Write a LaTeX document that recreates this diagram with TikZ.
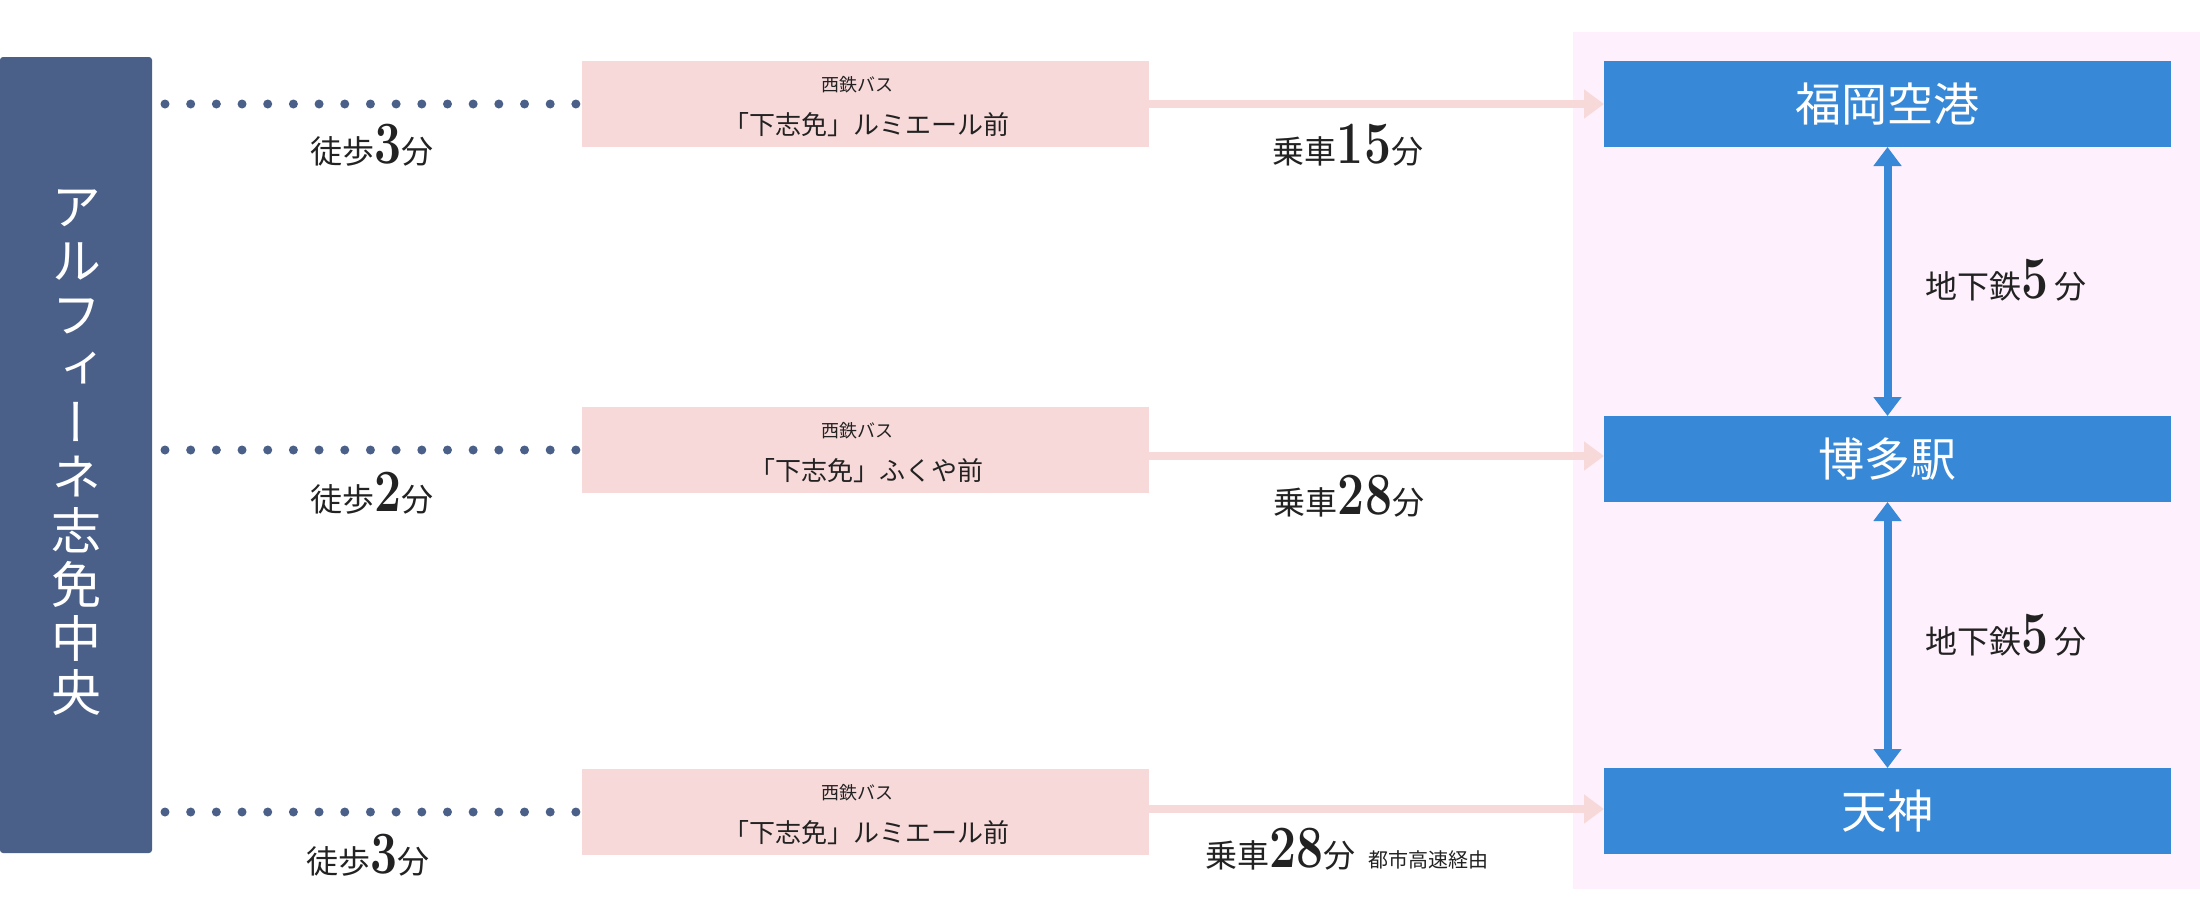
\documentclass[tikz,border=0pt]{standalone}
\usepackage{fontspec}
\usepackage{graphicx}
\usetikzlibrary{arrows.meta}
\newfontfamily\jp{Noto Sans CJK JP}
\newfontfamily\jpv[RawFeature=+vert]{Noto Sans CJK JP}
\definecolor{cNavy}{HTML}{4A6089}
\definecolor{cPinkBox}{HTML}{F8D9D9}
\definecolor{cPinkBg}{HTML}{FEF0FC}
\definecolor{cBlue}{HTML}{3788D6}
\definecolor{cInk}{HTML}{222222}
\newcommand\jpsize[1]{\fontsize{#1}{#1}\selectfont}
\newcommand\bignum[1]{{\rmfamily\bfseries\fontsize{60}{60}\selectfont\scalebox{0.8}[1]{#1}}}
\begin{document}
\begin{tikzpicture}[x=1pt,y=-1pt,
  leftbox/.style={fill=cNavy,draw=none,rounded corners=3pt,minimum width=152pt,minimum height=796pt,inner sep=0pt,outer sep=0pt},
  vtext/.style={text=white,font=\jpv\fontsize{50}{54}\selectfont,align=center,inner sep=0pt},
  stopbox/.style={fill=cPinkBox,draw=none,minimum width=567pt,minimum height=86pt,inner sep=0pt,outer sep=0pt},
  stationbox/.style={fill=cBlue,draw=none,minimum width=567pt,minimum height=86pt,inner sep=0pt,outer sep=0pt,text=white,font=\jp\jpsize{46}},
  buscap/.style={text=cInk,font=\jp\jpsize{18},inner sep=0pt},
  busstop/.style={text=cInk,font=\jp\jpsize{26},inner sep=0pt},
  lbl/.style={text=cInk,font=\jp\jpsize{32},inner sep=0pt},
  walk/.style={draw=cNavy,line width=9pt,line cap=round,dash pattern=on 0pt off 25.68pt,shorten <=13pt,shorten >=6pt},
  ride/.style={draw=cPinkBox,line width=8pt,-{Triangle[width=28pt,length=20pt]}},
  subway/.style={draw=cBlue,line width=8pt,{Triangle[width=27pt,length=19pt]}-{Triangle[width=27pt,length=19pt]}}
]
\useasboundingbox (0,0) rectangle (2200,918);
\fill[white] (0,0) rectangle (2200,918);
\fill[cPinkBg] (1573,32) rectangle (2200,889);

% left station
\node[leftbox] (alpha) at (76,455) {};
\node[vtext] (alphaname) at (76,453) {ア\\ル\\フ\\ィ\\ー\\ネ\\志\\免\\中\\央};

% bus stops
\node[stopbox] (p1) at (865.5,104) {};
\node[stopbox] (p2) at (865.5,450) {};
\node[stopbox] (p3) at (865.5,812) {};
\node[buscap] (p1a) at (857,85) {西鉄バス};
\node[busstop] (p1b) at (866,125) {「下志免」ルミエール前};
\node[buscap] (p2a) at (857,431) {西鉄バス};
\node[busstop] (p2b) at (866,471) {「下志免」ふくや前};
\node[buscap] (p3a) at (857,793) {西鉄バス};
\node[busstop] (p3b) at (866,833) {「下志免」ルミエール前};

% destinations
\node[stationbox] (b1) at (1887.5,104) {福岡空港};
\node[stationbox] (b2) at (1887.5,459) {博多駅};
\node[stationbox] (b3) at (1887.5,811) {天神};

% walking
\draw[walk] (alpha.east |- p1.west) -- (p1.west);
\draw[walk] (alpha.east |- p2.west) -- (p2.west);
\draw[walk] (alpha.east |- p3.west) -- (p3.west);

% bus rides
\draw[ride] (p1.east) -- (p1.east -| b1.west);
\draw[ride] ([yshift=-6pt]p2.east) -- ([yshift=-6pt]p2.east -| b2.west);
\draw[ride] ([yshift=3pt]p3.east) -- ([yshift=3pt]p3.east -| b3.west);

% subway
\draw[subway] (b1.south) -- (b2.north);
\draw[subway] (b2.south) -- (b3.north);

% labels
\node[lbl,anchor=base] (w1) at (372,163) {徒歩\bignum{3}分};
\node[lbl,anchor=base] (w2) at (372,511) {徒歩\bignum{2}分};
\node[lbl,anchor=base] (w3) at (368,873) {徒歩\bignum{3}分};
\node[lbl,anchor=base] (r1) at (1348,163) {乗車\bignum{15}分};
\node[lbl,anchor=base] (r2) at (1349,514) {乗車\bignum{28}分};
\node[lbl,anchor=base west] (r3) at (1205,867) {乗車\bignum{28}分\hspace{13pt}{\jpsize{20}都市高速経由}};
\node[lbl,anchor=base west] (s1) at (1925,298) {地下鉄\bignum{5}\hspace{6pt}分};
\node[lbl,anchor=base west] (s2) at (1925,653) {地下鉄\bignum{5}\hspace{6pt}分};
\end{tikzpicture}
\end{document}
